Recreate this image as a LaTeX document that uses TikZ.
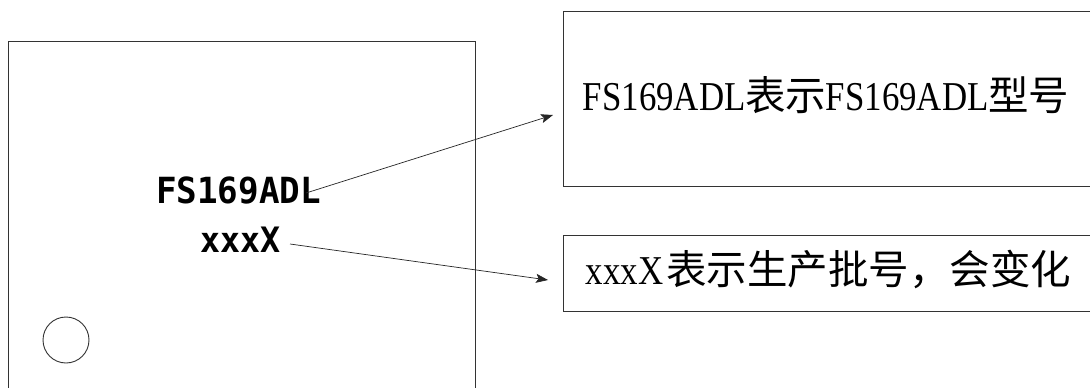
\documentclass[tikz,border=0pt]{standalone}
\usepackage{fontspec}
\usetikzlibrary{arrows.meta}
\newfontfamily\cjk{Noto Sans CJK SC}
\newfontfamily\latserif[FakeStretch=0.85]{Liberation Serif}
\newfontfamily\chipfont[FakeStretch=0.95]{DejaVu Sans Mono}
\newcommand{\latA}[2]{\makebox[#1pt][c]{\latserif\fontsize{41}{46}\selectfont #2}}
\begin{document}
\begin{tikzpicture}[x=1pt,y=-1pt,
  boxline/.style={draw=black!80, line width=0.9pt, inner sep=0, anchor=north west},
  txt/.style={inner sep=0, anchor=base west},
  leader/.style={draw=black!85, line width=0.7pt, -{Stealth[length=12pt,width=9pt,inset=2.5pt]}}]
\useasboundingbox (0,0) rectangle (1090,388);
\clip (0,0) rectangle (1090,388);
\fill[white] (0,0) rectangle (1090,388);
% chip outline
\node[boxline, minimum width=467, minimum height=400] (chip) at (8,41) {};
\node[draw=black!80, line width=0.9pt, circle, minimum size=46, inner sep=0] (pin) at (66,340) {};
% chip marking
\node[txt, font=\chipfont\bfseries\fontsize{36}{40}\selectfont] (mark) at (156,203) {FS169ADL};
\node[txt, font=\chipfont\bfseries\fontsize{35}{40}\selectfont] (lot) at (200,252) {xxxX};
% description boxes
\node[boxline, minimum width=600, minimum height=175] (box1) at (563,11) {};
\node[boxline, minimum width=600, minimum height=76] (box2) at (563,235) {};
\node[txt, font=\cjk\fontsize{40.5}{46}\selectfont] (t1) at (583,110) {\latA{162}{FS169ADL}表示\latA{162}{FS169ADL}型号};
\node[txt, font=\cjk\fontsize{40.5}{46}\selectfont] (t2) at (583,284) {\latA{83}{xxxX}表示生产批号，会变化};
% leader lines
\coordinate (s1) at (306,193);
\coordinate (e1) at (553,115);
\coordinate (s2) at (290,244);
\coordinate (e2) at (548,280);
\draw[leader] (s1) -- (e1);
\draw[leader] (s2) -- (e2);
\end{tikzpicture}
\end{document}
